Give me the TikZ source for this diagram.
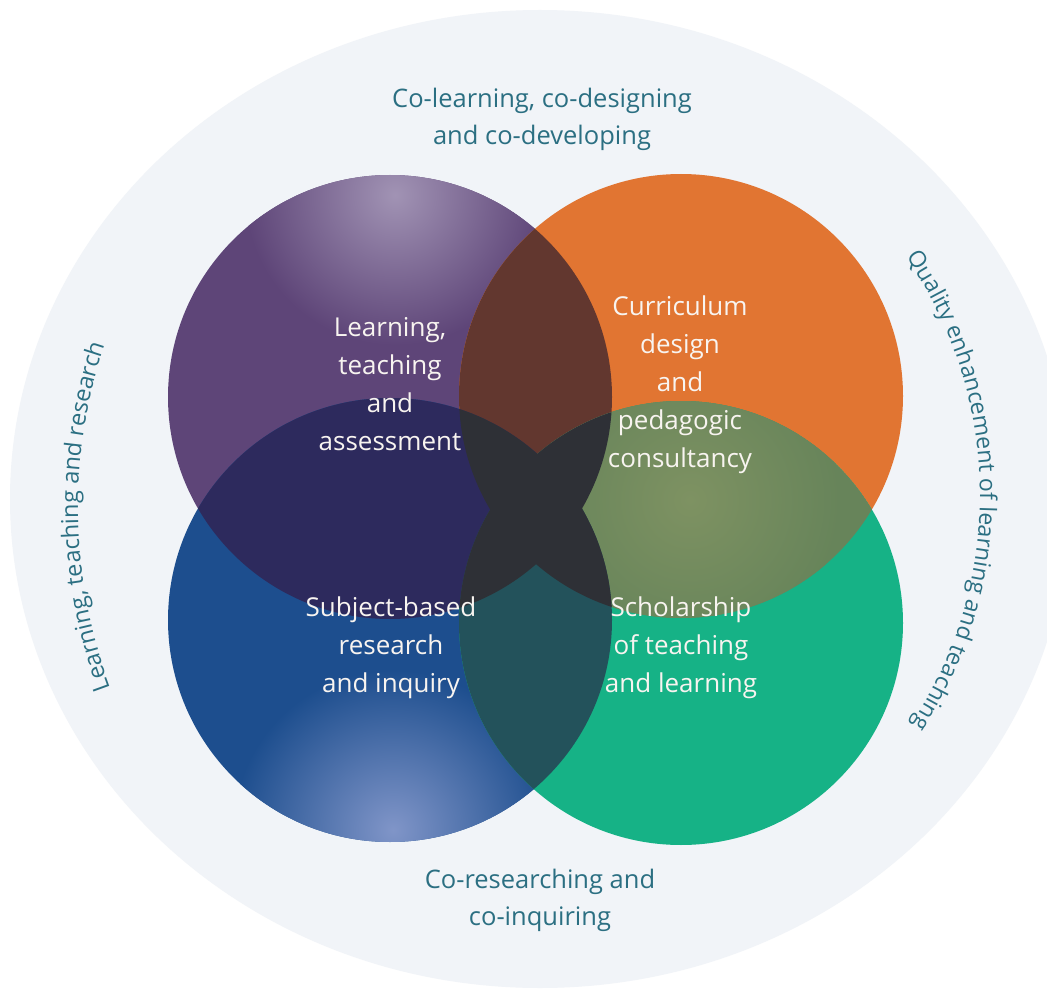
\documentclass[tikz,border=0pt]{standalone}
\usepackage{fontspec}
\setmainfont{Open Sans}
\usetikzlibrary{decorations.text}
\definecolor{bgc}{HTML}{F1F4F8}
\definecolor{tealtxt}{HTML}{2B6F82}
\definecolor{purp}{HTML}{5E4578}
\definecolor{purphi}{HTML}{A193B4}
\definecolor{oran}{HTML}{E17532}
\definecolor{blu}{HTML}{1D4E8E}
\definecolor{bluhi}{HTML}{8095C8}
\definecolor{grn}{HTML}{16B286}
\definecolor{cpo}{HTML}{62372F}
\definecolor{cpb}{HTML}{2D2A5D}
\definecolor{cog}{HTML}{67845A}
\definecolor{coghi}{HTML}{7E9262}
\definecolor{cbg}{HTML}{23525B}
\definecolor{cctr}{HTML}{2E3036}
\definecolor{txtw}{HTML}{F8F4F0}
\begin{document}
\begin{tikzpicture}[x=1pt,y=1pt,
  circtext/.style={text=txtw, align=center, font=\fontsize{26}{38}\selectfont},
  outtext/.style={text=tealtxt, align=center, font=\fontsize{25.5}{37}\selectfont}]
\useasboundingbox (0,0) rectangle (1047,-992);
\fill[white] (0,0) rectangle (1047,-992);
\fill[bgc] (540,-499) ellipse [x radius=530, y radius=489];

\coordinate (P) at (390,-397);
\coordinate (O) at (681,-396);
\coordinate (B) at (390,-620);
\coordinate (G) at (681,-623);

% base circles
\fill[purp] (P) circle[radius=222];
\begin{scope}
  \clip (P) circle[radius=222];
  \shade[inner color=purphi, outer color=purp] (395,-195) circle[radius=150];
\end{scope}
\fill[oran] (O) circle[radius=222];
\fill[blu] (B) circle[radius=222];
\begin{scope}
  \clip (B) circle[radius=222];
  \shade[inner color=bluhi, outer color=blu] (393,-830) circle[radius=160];
\end{scope}
\fill[grn] (G) circle[radius=222];

% pairwise overlaps
\begin{scope}
  \clip (P) circle[radius=222];
  \fill[cpo] (O) circle[radius=222];
\end{scope}
\begin{scope}
  \clip (P) circle[radius=222];
  \fill[cpb] (B) circle[radius=222];
\end{scope}
\begin{scope}
  \clip (O) circle[radius=222];
  \clip (G) circle[radius=222];
  \fill[cog] (G) circle[radius=222];
  \shade[inner color=coghi, outer color=cog] (690,-500) circle[radius=150];
\end{scope}
\begin{scope}
  \clip (B) circle[radius=222];
  \fill[cbg] (G) circle[radius=222];
\end{scope}
\begin{scope}
  \clip (P) circle[radius=222];
  \fill[cctr] (G) circle[radius=222];
\end{scope}
\begin{scope}
  \clip (O) circle[radius=222];
  \fill[cctr] (B) circle[radius=222];
\end{scope}

% circle texts
\node[circtext] (lta) at (390,-384) {Learning,\\teaching\\and\\assessment};
\node[circtext] (cdp) at (680,-385) {Curriculum\\design\\and\\pedagogic\\consultancy};
\node[circtext] (sbr) at (391,-648) {Subject-based\\research\\and inquiry};
\node[circtext] (stl) at (681,-648) {Scholarship\\of teaching\\and learning};

% outer texts
\node[outtext] (top) at (542,-119) {Co-learning, co-designing\\and co-developing};
\node[outtext] (bot) at (540,-900) {Co-researching and\\co-inquiring};

% curved texts
\path[decorate, decoration={text along path, text align=center, text color=tealtxt,
  text={|\fontsize{23.5}{28}\selectfont|Learning, teaching and research}}]
  (590,-508) ++(213:512) arc[start angle=213, end angle=149, radius=512];
\path[decorate, decoration={text along path, text align=center, text color=tealtxt,
  text={|\fontsize{23}{28}\selectfont|Quality enhancement of learning and teaching}}]
  (560,-495) ++(47.7:420) arc[start angle=47.7, end angle=-46.3, radius=420];
\end{tikzpicture}
\end{document}
